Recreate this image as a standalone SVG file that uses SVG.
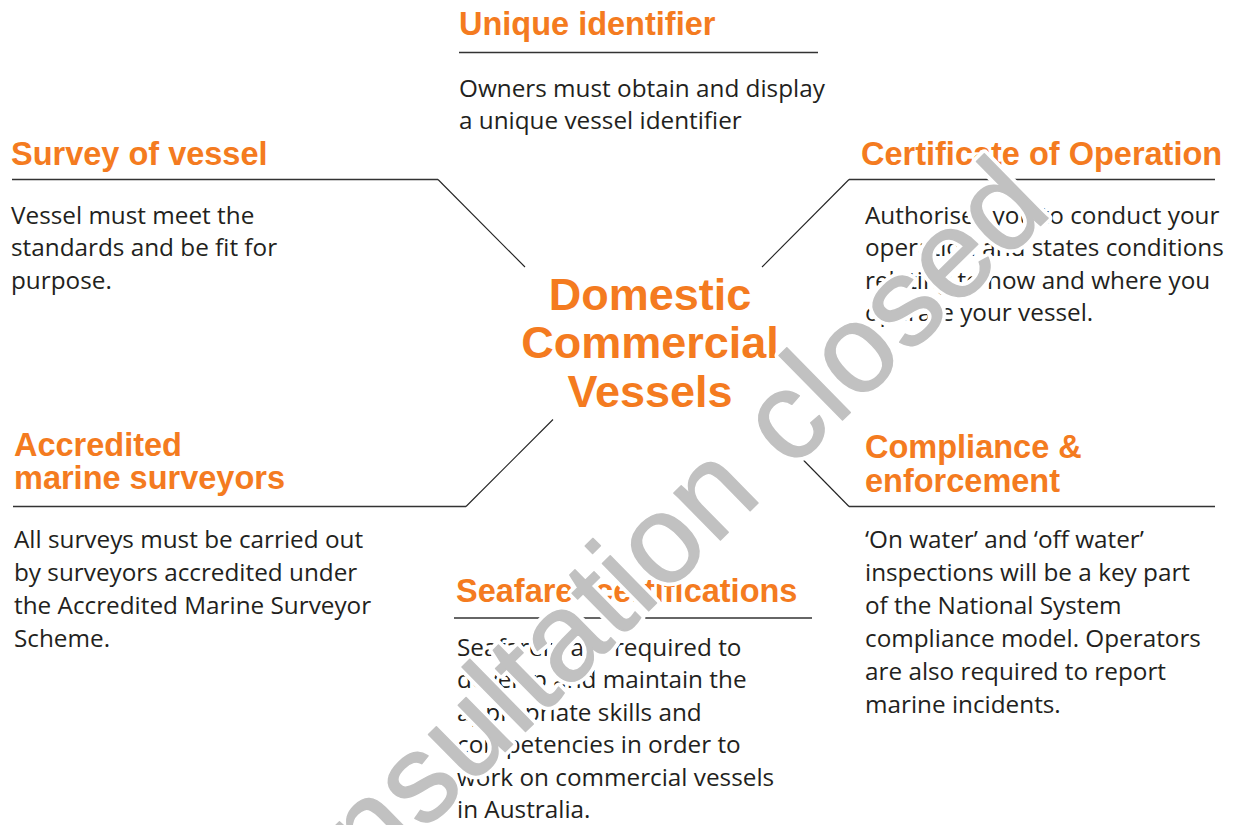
<svg xmlns="http://www.w3.org/2000/svg" width="1236" height="825" viewBox="0 0 1236 825">
<style>
.h{font-family:"Liberation Sans",Arial,sans-serif;font-weight:bold;font-size:32.5px;fill:#f47b20}
.t{font-family:"Liberation Sans",Arial,sans-serif;font-weight:bold;font-size:45px;fill:#f47b20;text-anchor:middle}
.b{font-family:"Open Sans","Noto Sans",sans-serif;font-size:24.3px;fill:#231f20}
.c{fill:none;stroke:#333;stroke-width:1.3}
.d{fill:none;stroke:#222;stroke-width:1.1}
.wm{font-family:"Liberation Sans",Arial,sans-serif;font-size:125px;letter-spacing:1.5px}
.halo{fill:#fff;stroke:#fff;stroke-width:9;stroke-linejoin:round}
.ink{fill:#c1c1c1;stroke:#c1c1c1;stroke-width:1.4;stroke-linejoin:round}
</style>
<rect width="1236" height="825" fill="#fff"/>
<g id="connectors">
<polyline class="c" points="459,52.5 818,52.5"/>
<polyline class="c" points="12,179.5 438,179.5"/>
<polyline class="d" points="438,179.5 525,267"/>
<polyline class="c" points="1215,179.5 849,179.5"/>
<polyline class="d" points="849,179.5 762,267"/>
<polyline class="c" points="13,506.5 466,506.5"/>
<polyline class="d" points="466,506.5 553,419.5"/>
<polyline class="c" points="1215,506.5 849,506.5"/>
<polyline class="d" points="849,506.5 765,421"/>
<polyline class="c" points="454,618 812,618"/>
</g>
<g id="center">
<text class="t" x="650" y="309.5">Domestic</text>
<text class="t" x="650" y="358">Commercial</text>
<text class="t" x="650" y="406.5">Vessels</text>
</g>
<g id="unique-identifier">
<text class="h" x="459" y="35">Unique identifier</text>
<text class="b" x="459" y="96.5">Owners must obtain and display</text>
<text class="b" x="459" y="128.5">a unique vessel identifier</text>
</g>
<g id="survey-of-vessel">
<text class="h" x="11" y="165">Survey of vessel</text>
<text class="b" x="11" y="223.5">Vessel must meet the</text>
<text class="b" x="11" y="256">standards and be fit for</text>
<text class="b" x="11" y="288.5">purpose.</text>
</g>
<g id="certificate-of-operation">
<text class="h" x="861" y="165">Certificate of Operation</text>
<text class="b" x="865" y="223.5">Authorises you to conduct your</text>
<text class="b" x="865" y="256">operation and states conditions</text>
<text class="b" x="865" y="288.5">relating to how and where you</text>
<text class="b" x="865" y="321">operate your vessel.</text>
</g>
<g id="accredited-marine-surveyors">
<text class="h" x="14" y="456">Accredited</text>
<text class="h" x="14" y="489">marine surveyors</text>
<text class="b" x="14" y="548">All surveys must be carried out</text>
<text class="b" x="14" y="581">by surveyors accredited under</text>
<text class="b" x="14" y="614">the Accredited Marine Surveyor</text>
<text class="b" x="14" y="647">Scheme.</text>
</g>
<g id="compliance-enforcement">
<text class="h" x="865" y="458">Compliance &amp;</text>
<text class="h" x="865" y="492">enforcement</text>
<text class="b" x="865" y="548">‘On water’ and ‘off water’</text>
<text class="b" x="865" y="581">inspections will be a key part</text>
<text class="b" x="865" y="614">of the National System</text>
<text class="b" x="865" y="647">compliance model. Operators</text>
<text class="b" x="865" y="680">are also required to report</text>
<text class="b" x="865" y="713">marine incidents.</text>
</g>
<g id="seafarer-certifications">
<text class="h" x="456" y="602">Seafarer certifications</text>
<text class="b" x="457" y="655.5">Seafarers are required to</text>
<text class="b" x="457" y="688">develop and maintain the</text>
<text class="b" x="457" y="720.5">appropriate skills and</text>
<text class="b" x="457" y="753">competencies in order to</text>
<text class="b" x="457" y="785.5">work on commercial vessels</text>
<text class="b" x="457" y="818">in Australia.</text>
</g>
<g id="watermark" transform="translate(256.5,996) rotate(-44.5)">
<text class="wm halo" x="0" y="0">Consultation closed</text>
<text class="wm ink" x="0" y="0">Consultation closed</text>
</g>
</svg>
